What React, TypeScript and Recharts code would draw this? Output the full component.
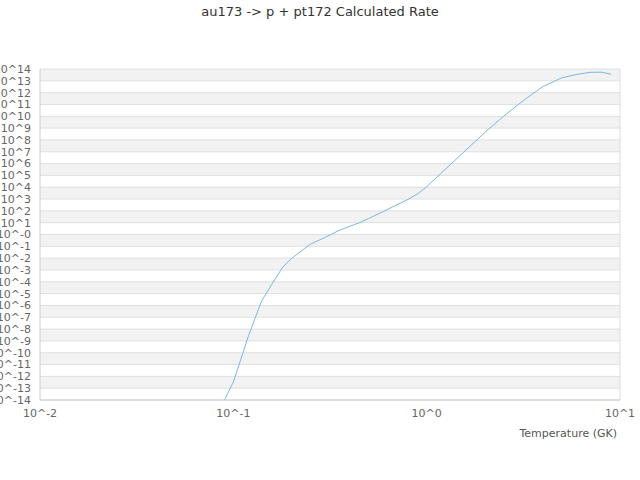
import React from 'react'
import {
  LineChart,
  Line,
  XAxis,
  YAxis,
  CartesianGrid,
  ReferenceLine,
} from 'recharts'

// temperatures (GK) and calculated rates
const temperatures = [
  0.09, 0.1, 0.12, 0.14, 0.16, 0.18, 0.2, 0.25, 0.3, 0.35, 0.4, 0.45, 0.5, 0.6,
  0.7, 0.8, 0.9, 1, 1.5, 2, 2.5, 3, 3.5, 4, 5, 6, 7, 8, 9,
]
const rates = [
  1.0e-14, 3.3e-13, 2.9e-9, 2.4e-6, 8.3e-5, 1.7e-3, 9.5e-3, 0.15, 0.6, 2.1, 4.9,
  10, 22, 91, 320, 930, 2.8e3, 1.1e4, 5.4e6, 4.3e8, 1.0e10, 1.1e11, 7.1e11,
  3.3e12, 1.8e13, 3.5e13, 5.2e13, 5.4e13, 3.6e13,
]

const xTicks = [0.01, 0.1, 1, 10]
const yTicks = [
  1e-14, 1e-13, 1e-12, 1e-11, 1e-10, 1e-9, 1e-8, 1e-7, 1e-6, 1e-5, 1e-4, 1e-3,
  1e-2, 1e-1, 1, 1e1, 1e2, 1e3, 1e4, 1e5, 1e6, 1e7, 1e8, 1e9, 1e10, 1e11, 1e12,
  1e13, 1e14,
]

const data = temperatures.map((t, i) => ({ t, rate: rates[i] }))

const font = '"DejaVu Sans", Verdana, sans-serif'

const xFormat = (v: number) => `10^${Math.round(Math.log10(v))}`
const yFormat = (v: number) => {
  const e = Math.round(Math.log10(v))
  return e === 0 ? '10^-0' : `10^${e}`
}

export default function App() {
  return (
    <div style={{ position: 'absolute', left: 0, top: 0, width: 640, height: 480, fontFamily: font }}>
      <div
        style={{
          position: 'absolute',
          top: 4,
          left: 0,
          width: 640,
          textAlign: 'center',
          fontSize: 13,
          color: '#333',
        }}
      >
        au173 -&gt; p + pt172 Calculated Rate
      </div>
      <LineChart
        width={640}
        height={480}
        data={data}
        margin={{ top: 69, right: 20, bottom: 40, left: 0 }}
      >
        <CartesianGrid
          vertical={false}
          stroke="#e0e0e0"
          horizontalFill={['#f2f2f2', '#ffffff']}
        />
        <XAxis
          dataKey="t"
          type="number"
          scale="log"
          domain={[0.01, 10]}
          ticks={xTicks}
          interval={0}
          allowDataOverflow
          tickFormatter={xFormat}
          tickLine={false}
          tickSize={6}
          tickMargin={3}
          height={40}
          stroke="#cccccc"
          tick={{ fill: '#666', fontSize: 11, fontFamily: font }}
          label={{
            value: 'Temperature (GK)',
            position: 'insideBottomRight',
            offset: 3,
            fill: '#555',
            fontSize: 11,
            fontFamily: font,
          }}
        />
        <YAxis
          type="number"
          scale="log"
          domain={[1e-14, 1e14]}
          ticks={yTicks}
          interval={0}
          allowDataOverflow
          tickFormatter={yFormat}
          tickLine={false}
          tickSize={6}
          tickMargin={3}
          width={40}
          stroke="#cccccc"
          tick={{ fill: '#666', fontSize: 11, fontFamily: font }}
        />
        <ReferenceLine x={10} stroke="#dddddd" />
        <Line
          type="linear"
          dataKey="rate"
          stroke="#7cb5ec"
          strokeWidth={1}
          dot={false}
          isAnimationActive={false}
        />
      </LineChart>
    </div>
  )
}
